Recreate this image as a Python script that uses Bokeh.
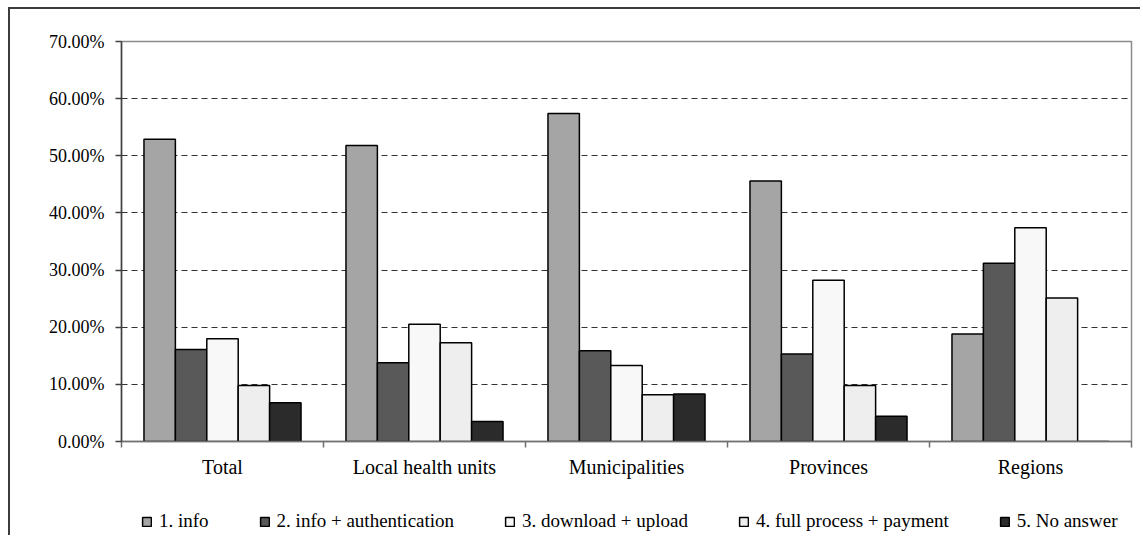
from bokeh.plotting import figure
from bokeh.layouts import column
from bokeh.models import (Range1d, LinearAxis, FixedTicker, NumeralTickFormatter,
                          Legend, LegendItem, ColumnDataSource, Grid)
from bokeh.transform import dodge
from bokeh.core.properties import value
from bokeh.embed import file_html
from bokeh.resources import INLINE

# Share of respondents by level of online service, per type of administration
categories = ["Total", "Local health units", "Municipalities", "Provinces", "Regions"]
series_names = ["1. info", "2. info + authentication", "3. download + upload",
                "4. full process + payment", "5. No answer"]
info = [0.529, 0.518, 0.574, 0.456, 0.188]
info_auth = [0.161, 0.138, 0.159, 0.153, 0.312]
download_upload = [0.180, 0.205, 0.133, 0.282, 0.374]
full_process = [0.098, 0.173, 0.082, 0.098, 0.251]
no_answer = [0.068, 0.035, 0.083, 0.044, 0.0]
y_ticks = [0.0, 0.1, 0.2, 0.3, 0.4, 0.5, 0.6, 0.7]

series_values = [info, info_auth, download_upload, full_process, no_answer]
series_colors = ["#a5a5a5", "#595959", "#f8f8f8", "#eeeeee", "#2b2b2b"]
bar_width = 0.1555
offsets = [-2 * bar_width, -bar_width, 0.0, bar_width, 2 * bar_width]

FONT = "Liberation Serif"
WIDTH = 1130

# each category occupies one unit on the x scale; groups sit at the unit centres
n_cat = len(categories)
centres = [i + 0.5 for i in range(n_cat)]
edges = list(range(n_cat + 1))

data = {"pos": centres, "cat": categories}
keys = ["s1", "s2", "s3", "s4", "s5"]
for k, vals in zip(keys, series_values):
    data[k] = vals
source = ColumnDataSource(data)

p = figure(width=WIDTH, height=480,
           x_range=Range1d(0, n_cat), y_range=Range1d(0, 0.7),
           x_axis_location=None,
           output_backend="svg", toolbar_location=None,
           min_border_left=111, min_border_right=9,
           min_border_top=32, min_border_bottom=48)
p.background_fill_color = "white"
p.border_fill_color = "white"
p.outline_line_color = "#8c8c8c"
p.outline_line_width = 1.5

for g in p.grid:
    g.visible = False
p.add_layout(Grid(dimension=1, ticker=FixedTicker(ticks=y_ticks[1:-1]),
                  grid_line_color="#333333", grid_line_dash="6 4",
                  grid_line_width=1), "center")

bar_style = dict(line_color="black", line_width=1.5)
for k, off, col in zip(keys, offsets, series_colors):
    p.vbar(x=dodge("pos", off), top=k, width=bar_width,
           source=source, fill_color=col, **bar_style)

# y axis with percentage labels
yax = p.yaxis[0]
yax.ticker = FixedTicker(ticks=y_ticks)
yax.formatter = NumeralTickFormatter(format="0.00%")
yax.axis_line_color = "#404040"
yax.axis_line_width = 1.5
yax.major_tick_line_color = "#404040"
yax.major_tick_line_width = 1.5
yax.major_tick_in = 0
yax.major_tick_out = 6
yax.minor_tick_line_color = None
yax.major_label_standoff = 11
yax.major_label_text_font = FONT
yax.major_label_text_font_size = "18px"
yax.major_label_text_color = "black"

# category names at group centres, tick marks between groups
xax = LinearAxis(ticker=FixedTicker(ticks=centres, minor_ticks=edges),
                 major_label_overrides={c: name for c, name in zip(centres, categories)},
                 axis_line_color="#707070", axis_line_width=1.5,
                 major_tick_line_color=None,
                 minor_tick_line_color="#707070", minor_tick_line_width=1.5,
                 minor_tick_in=0, minor_tick_out=6,
                 major_label_standoff=8,
                 major_label_text_font=FONT,
                 major_label_text_font_size="20px",
                 major_label_text_color="black")
p.add_layout(xax, "below")

# legend strip under the chart; its key renderers share the bar styles and data
# but stay hidden, so only the legend keys are drawn
lf = figure(width=WIDTH, height=46, x_range=Range1d(0, n_cat), y_range=Range1d(0, 0.7),
            x_axis_location=None, y_axis_location=None,
            output_backend="svg", toolbar_location=None,
            min_border=0)
lf.outline_line_color = None
lf.background_fill_color = "white"
lf.border_fill_color = "white"
for g in lf.grid:
    g.visible = False
key_renderers = []
for k, off, col in zip(keys, offsets, series_colors):
    r = lf.vbar(x=dodge("pos", off), top=k, width=bar_width, source=source,
                fill_color=col, **bar_style)
    r.visible = False
    key_renderers.append(r)
legend = Legend(items=[LegendItem(label=value(n), renderers=[r])
                       for n, r in zip(series_names, key_renderers)],
                orientation="horizontal", location=(20, 3),
                border_line_color=None, background_fill_alpha=0,
                inactive_fill_alpha=0,
                label_text_font=FONT, label_text_font_size="19px",
                label_text_color="black", label_height=22,
                glyph_width=11, glyph_height=11, label_standoff=7,
                spacing=50, padding=0, margin=0)
lf.add_layout(legend, "center")

layout = column(p, lf, spacing=0)
layout.styles = {"margin-left": "8px", "margin-top": "7px",
                 "border-left": "2px solid #3c3c3c", "border-top": "2px solid #3c3c3c"}

open("out.html", "w").write(file_html(layout, INLINE))
